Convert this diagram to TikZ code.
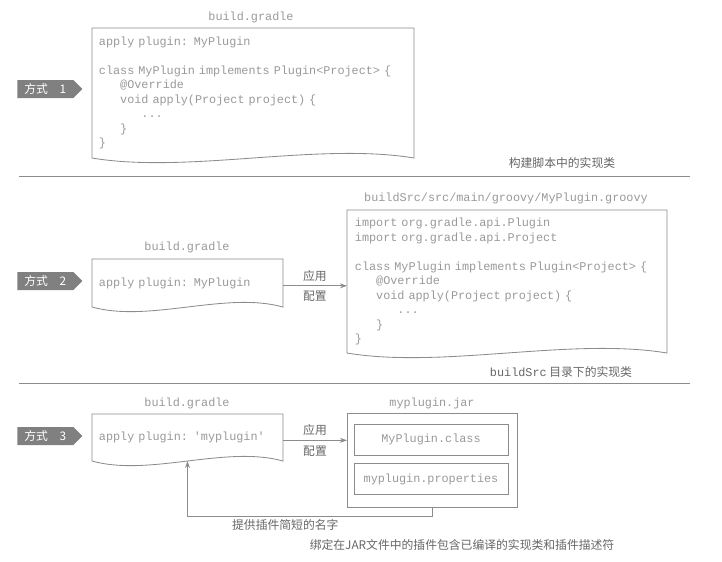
\documentclass[tikz,border=0pt]{standalone}
\usepackage{fontspec}
\setmonofont{Liberation Mono}[WordSpace={1,0,0}]
\newfontfamily\cjk{Noto Sans CJK SC}
\usetikzlibrary{shapes.symbols, calc, arrows.meta}

\definecolor{codegray}{gray}{0.6}
\definecolor{linegray}{gray}{0.55}
\definecolor{capgray}{gray}{0.4}
\definecolor{tabgray}{gray}{0.5}

\newcommand\codesize{\fontsize{8.4}{10.3}\selectfont}
% wavy-bottomed file outline around a node
\newcommand\docframe[1]{%
  \draw[docline] (#1.north west) -- (#1.north east) -- (#1.south east)
    .. controls ($(#1.south west)!.7!(#1.south east)+(0,-16)$) and ($(#1.south west)!.3!(#1.south east)+(0,16)$) .. (#1.south west) -- cycle;}

\begin{document}
\begin{tikzpicture}[x=0.025cm,y=-0.025cm,
  docline/.style={draw=linegray,line width=0.6pt},
  divider/.style={draw=linegray,line width=0.7pt},
  code/.style={font=\ttfamily\codesize,text=codegray,align=left,inner ysep=0pt,outer sep=0pt},
  title/.style={font=\ttfamily\codesize,text=codegray,inner sep=0pt},
  caption/.style={font=\cjk\codesize,text=capgray,inner sep=0pt},
  tab/.style={shape=signal,signal to=east,signal pointer angle=90,fill=tabgray,text=white,font=\cjk\codesize,minimum width=1.625cm,minimum height=0.45cm,inner sep=0pt,anchor=west},
  conn/.style={draw=linegray,line width=0.6pt,-{Stealth[length=5pt,width=3.5pt]}},
  file/.style={draw=linegray,line width=0.6pt,font=\ttfamily\codesize,text=codegray,inner sep=0pt,outer sep=0pt}]
  \useasboundingbox (0,0) rectangle (722,561);

  % way 1
  \node[code,text width=7.7cm,inner xsep=0.175cm,minimum height=3.25cm] (g1) at (253,93) {apply plugin: MyPlugin\\[10.3pt]
    class MyPlugin implements Plugin<Project> \{\\
    \phantom{000}@Override\\
    \phantom{000}void apply(Project project) \{\\
    \phantom{000000}...\\
    \phantom{000}\}\\
    \}};
  \docframe{g1}
  \node[title] (t1) at (251,17) {build.gradle};
  \node[tab] (m1) at (17,89) {方式\quad 1};
  \node[caption] (c1) at (562,163) {构建脚本中的实现类};
  \draw[divider] (19,176) -- (690,176);

  % way 2
  \node[code,text width=4.425cm,inner xsep=0.175cm,minimum height=1.2cm] (g2) at (187.5,283) {apply plugin: MyPlugin};
  \node[code,text width=7.6cm,inner xsep=0.2cm,minimum height=3.575cm] (s2) at (507,281.5) {import org.gradle.api.Plugin\\
    import org.gradle.api.Project\\[10.3pt]
    class MyPlugin implements Plugin<Project> \{\\
    \phantom{000}@Override\\
    \phantom{000}void apply(Project project) \{\\
    \phantom{000000}...\\
    \phantom{000}\}\\
    \}};
  \docframe{g2}
  \docframe{s2}
  \node[title] (t2) at (187,247) {build.gradle};
  \node[title] (t3) at (506,198) {buildSrc/src/main/groovy/MyPlugin.groovy};
  \node[tab] (m2) at (17,281) {方式\quad 2};
  \coordinate (a2) at ([yshift=-2pt]g2.east);
  \draw[conn] (a2) -- (a2 -| s2.west) node[caption,midway,above=3pt] (u2) {应用} node[caption,midway,below=3.5pt] (p2) {配置};
  \node[caption] (c2) at (561,372) {{\ttfamily buildSrc} 目录下的实现类};
  \draw[divider] (19,383) -- (690,383);

  % way 3
  \node[code,text width=4.425cm,inner xsep=0.175cm,minimum height=1.175cm] (g3) at (187.5,437.5) {apply plugin: 'myplugin'};
  \docframe{g3}
  \node[title] (t4) at (187,403) {build.gradle};
  \node[file,minimum width=4.25cm,minimum height=2.35cm] (jar) at (432,460) {};
  \node[title] (t5) at (432,403) {myplugin.jar};
  \node[file,minimum width=3.85cm,minimum height=0.775cm] (cls) at (431,439.5) {MyPlugin.class};
  \node[file,minimum width=3.85cm,minimum height=0.775cm] (prop) at (431,479) {myplugin.properties};
  \node[tab] (m3) at (17,436) {方式\quad 3};
  \coordinate (a3) at ([yshift=-2pt]g3.east);
  \draw[conn] (a3) -- (a3 -| jar.west) node[caption,midway,above=3pt] (u3) {应用} node[caption,midway,below=3.5pt] (p3) {配置};
  \draw[conn] (jar.south) -- ++(0,9) -| node[caption,pos=.3,below=2pt] (fb) {提供插件简短的名字} (g3.south);
  \node[caption] (c3) at (462,545) {绑定在JAR文件中的插件包含已编译的实现类和插件描述符};
\end{tikzpicture}
\end{document}
